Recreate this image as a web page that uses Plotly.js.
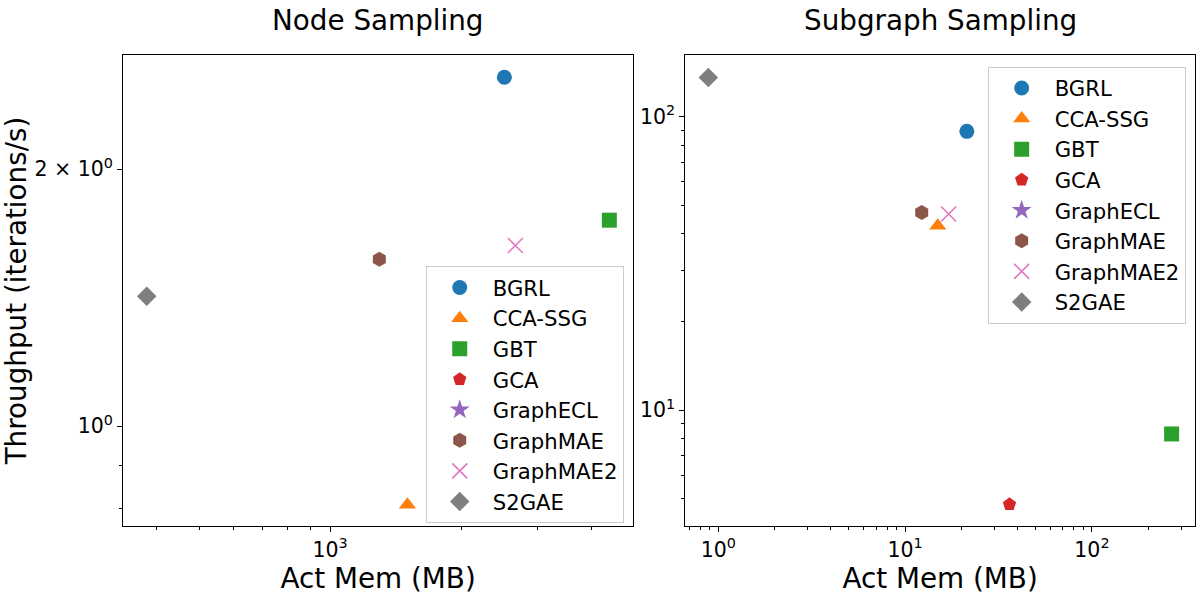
<!DOCTYPE html>
<html>
<head>
<meta charset="utf-8">
<script src="https://cdn.plot.ly/plotly-3.0.1.min.js"></script>
<style>html,body{margin:0;padding:0;background:#fff;}#chart{width:1200px;height:600px;}</style>
</head>
<body>
<div id="chart"></div>
<script>
// ---- data ----
const methods = ['BGRL', 'CCA-SSG', 'GBT', 'GCA', 'GraphECL', 'GraphMAE', 'GraphMAE2', 'S2GAE'];
const colors = ['#1f77b4', '#ff7f0e', '#2ca02c', '#d62728', '#9467bd', '#8c564b', '#e377c2', '#7f7f7f'];
const symbols = ['circle', 'triangle-up', 'square', 'pentagon', 'star', 'hexagon', 'x-thin', 'diamond'];
const sizes = [15, 15, 15, 14, 15, 15, 15, 15];

// Node Sampling
const nodeMem = [2516, 1506, 4385, null, null, 1298, 2667, 379];
const nodeThr = [2.563, 0.809, 1.743, null, null, 1.569, 1.628, 1.420];
// Subgraph Sampling
const subMem = [21.4, 14.95, 267, 36.2, null, 12.27, 17.1, 0.884];
const subThr = [89.2, 42.5, 8.29, 4.77, null, 47.2, 46.6, 136];

// tick labels
const nodeXTicks = [1000], nodeXText = ['10<sup>3</sup>'];
const nodeYTicks = [1, 2], nodeYText = ['10<sup>0</sup>', '2 × 10<sup>0</sup>'];
const subXTicks = [1, 10, 100], subXText = ['10<sup>0</sup>', '10<sup>1</sup>', '10<sup>2</sup>'];
const subYTicks = [10, 100], subYText = ['10<sup>1</sup>', '10<sup>2</sup>'];

const titles = ['Node Sampling', 'Subgraph Sampling'];
const xLabel = 'Act Mem (MB)';
const yLabel = 'Throughput (iterations/s)';

const FONT = 'DejaVu Sans, Liberation Sans, sans-serif';
const traces = [];
function addTraces(xs, ys, xa, ya, leg) {
  methods.forEach((m, i) => {
    const isX = symbols[i] === 'x-thin';
    traces.push({
      type: 'scatter', mode: 'markers', name: m,
      x: [xs[i]], y: [ys[i]], xaxis: xa, yaxis: ya, legend: leg,
      marker: {
        symbol: symbols[i], size: sizes[i], color: colors[i],
        line: isX ? {color: colors[i], width: 1.6} : {width: 0}
      },
      cliponaxis: false
    });
  });
}
addTraces(nodeMem, nodeThr, 'x', 'y', 'legend');
addTraces(subMem, subThr, 'x2', 'y2', 'legend2');

const axBase = {
  type: 'log', showline: true, linecolor: 'black', linewidth: 1, mirror: true,
  showgrid: false, zeroline: false, ticks: 'outside', ticklen: 5, tickwidth: 1,
  tickcolor: 'black', tickfont: {family: FONT, size: 20.5, color: 'black'},
  tickmode: 'array'
};
const minorBase = {ticks: 'outside', ticklen: 3, tickwidth: 1, tickcolor: 'black', showgrid: false};

const legBase = {
  bgcolor: 'rgba(255,255,255,0.8)', bordercolor: '#cccccc', borderwidth: 1,
  font: {family: FONT, size: 21.2, color: 'black'}, xanchor: 'left', yanchor: 'top',
  itemwidth: 56, tracegroupgap: 0
};

const layout = {
  width: 1200, height: 600,
  margin: {l: 123, r: 5, t: 55, b: 74},
  paper_bgcolor: 'white', plot_bgcolor: 'white',
  showlegend: true,
  font: {family: FONT, color: 'black'},
  xaxis: Object.assign({}, axBase, {
    domain: [0, 0.476], range: [2.524, 3.697],
    tickvals: nodeXTicks, ticktext: nodeXText,
    minor: Object.assign({}, minorBase, {tickvals: [400, 500, 600, 700, 800, 900, 2000, 3000, 4000]}),
    title: {text: xLabel, font: {family: FONT, size: 27.8, color: 'black'}, standoff: 6}
  }),
  yaxis: Object.assign({}, axBase, {
    domain: [0, 1], range: [-0.117, 0.4348],
    tickvals: nodeYTicks, ticktext: nodeYText,
    minor: Object.assign({}, minorBase, {tickvals: [0.8, 0.9]}),
    title: {text: yLabel, font: {family: FONT, size: 27.8, color: 'black'}, standoff: 10}
  }),
  xaxis2: Object.assign({}, axBase, {
    domain: [0.5245, 1], range: [-0.1768, 2.5517], anchor: 'y2',
    tickvals: subXTicks, ticktext: subXText,
    minor: Object.assign({}, minorBase, {tickvals: [0.7, 0.8, 0.9, 2, 3, 4, 5, 6, 7, 8, 9, 20, 30, 40, 50, 60, 70, 80, 90, 200, 300]}),
    title: {text: xLabel, font: {family: FONT, size: 27.8, color: 'black'}, standoff: 6}
  }),
  yaxis2: Object.assign({}, axBase, {
    domain: [0, 1], range: [0.6047, 2.2106], anchor: 'x2',
    tickvals: subYTicks, ticktext: subYText,
    minor: Object.assign({}, minorBase, {tickvals: [5, 6, 7, 8, 9, 20, 30, 40, 50, 60, 70, 80, 90]})
  }),
  legend: Object.assign({}, legBase, {x: 0.2824, y: 0.5514}),
  legend2: Object.assign({}, legBase, {x: 0.8066, y: 0.975}),
  annotations: [
    {text: titles[0], xref: 'paper', yref: 'paper', x: 0.238, y: 1, xanchor: 'center', yanchor: 'bottom',
     yshift: 16, showarrow: false, font: {family: FONT, size: 27.8, color: 'black'}},
    {text: titles[1], xref: 'paper', yref: 'paper', x: 0.7622, y: 1, xanchor: 'center', yanchor: 'bottom',
     yshift: 16, showarrow: false, font: {family: FONT, size: 27.8, color: 'black'}}
  ]
};

Plotly.newPlot('chart', traces, layout, {displayModeBar: false});
</script>
</body>
</html>
